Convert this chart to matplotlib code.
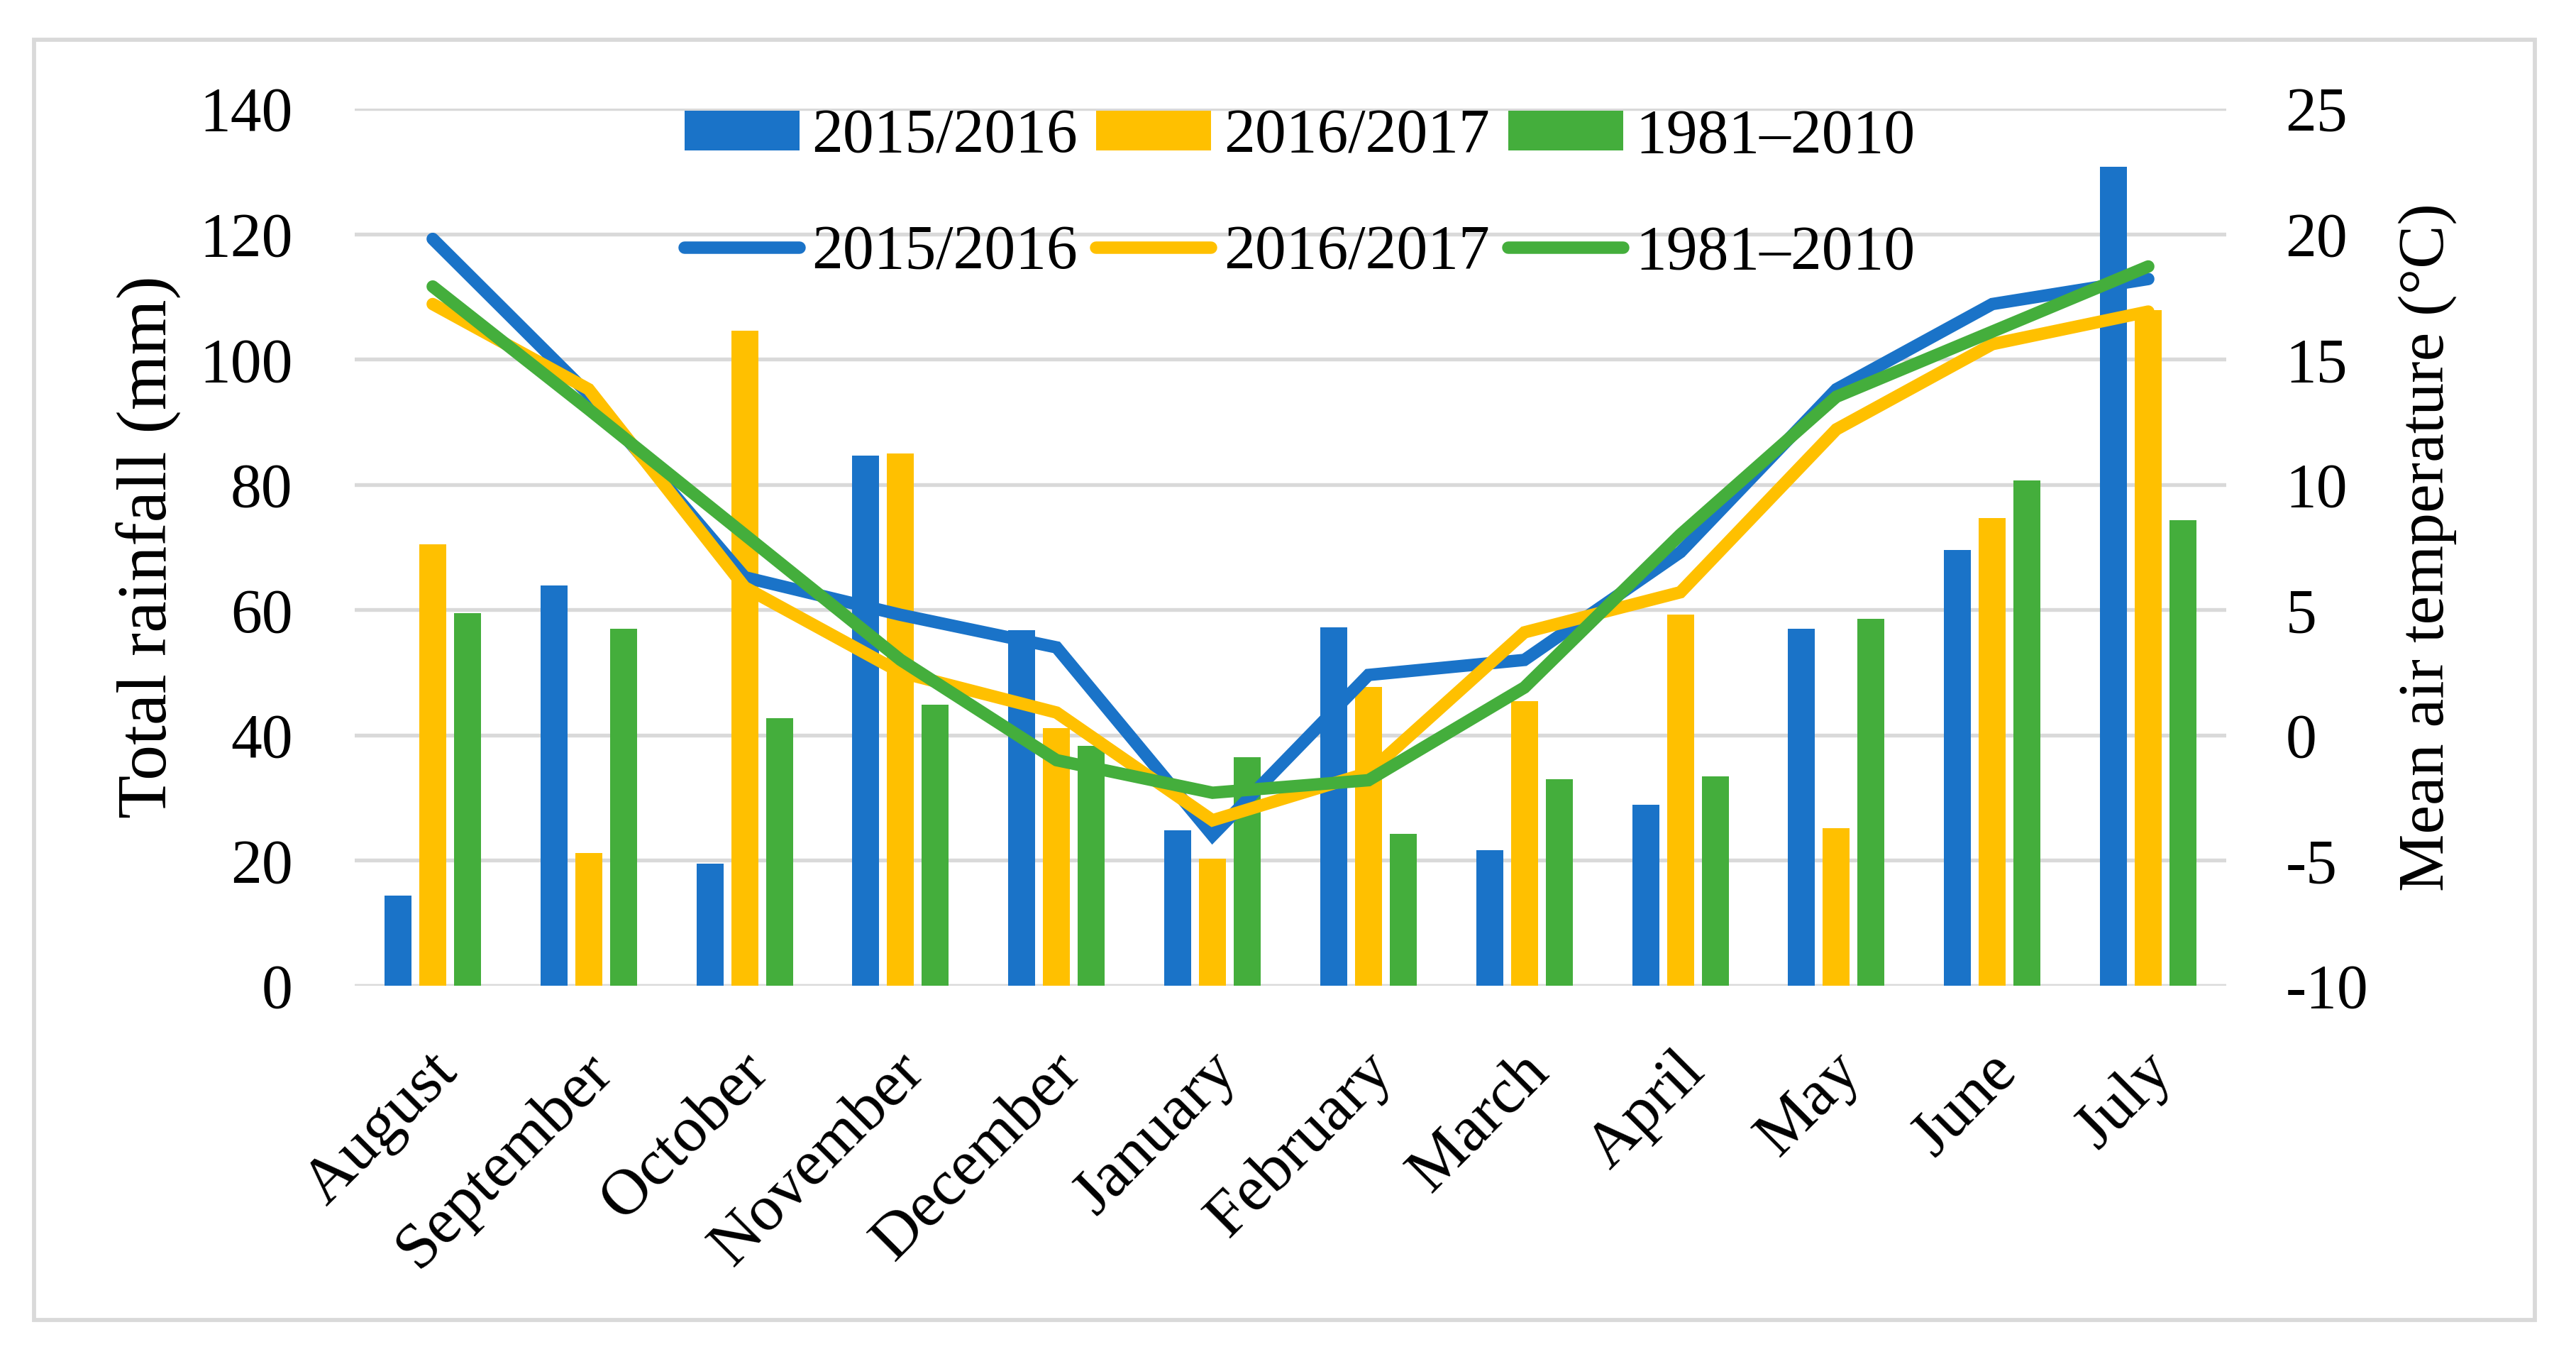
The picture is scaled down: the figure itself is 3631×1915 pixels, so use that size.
import numpy as np
import matplotlib.pyplot as plt
import matplotlib.transforms as mtrans
from matplotlib.patches import Rectangle

months = ["August", "September", "October", "November", "December", "January",
          "February", "March", "April", "May", "June", "July"]
series = ["2015/2016", "2016/2017", "1981\u20132010"]

rain_1516 = [14.4, 63.9, 19.5, 84.6, 56.7, 24.8, 57.2, 21.6, 28.9, 57.0, 69.5, 130.7]
rain_1617 = [70.5, 21.2, 104.5, 85.0, 41.1, 20.3, 47.7, 45.4, 59.2, 25.2, 74.6, 107.8]
rain_norm = [59.5, 57.0, 42.7, 44.9, 38.3, 36.5, 24.2, 33.0, 33.4, 58.6, 80.6, 74.3]

temp_1516 = [19.8, 13.6, 6.3, 4.8, 3.5, -4.0, 2.4, 3.0, 7.3, 13.8, 17.2, 18.2]
temp_1617 = [17.2, 13.8, 5.9, 2.5, 0.9, -3.4, -1.5, 4.1, 5.7, 12.2, 15.6, 16.9]
temp_norm = [17.9, 13.0, 8.0, 3.0, -1.0, -2.3, -1.8, 1.9, 8.0, 13.5, 16.1, 18.7]

colors = ["#1A73C8", "#FFC000", "#44AE3C"]
grid_c = "#D9D9D9"

plt.rcParams['font.family'] = ['Liberation Serif', 'DejaVu Serif']
plt.rcParams['axes.unicode_minus'] = False
fs = 21

fig = plt.figure(figsize=(3631 / 300, 1915 / 300), dpi=300)
ax = fig.add_axes([500 / 3631, 1 - 1389 / 1915, (3138 - 500) / 3631, (1389 - 153) / 1915])
ax2 = ax.twinx()

# outer border
fig.patches.append(Rectangle((48 / 3631, 1 - 1860 / 1915), (3573 - 48) / 3631, (1860 - 56) / 1915,
                             transform=fig.transFigure, fill=False, edgecolor=grid_c, lw=1.4))

x = np.arange(len(months))
w = 0.173
pitch = 0.223
bars = []
for i, vals in enumerate([rain_1516, rain_1617, rain_norm]):
    b = ax.bar(x + (i - 1) * pitch, vals, width=w, color=colors[i], zorder=2, label=series[i])
    bars.append(b)

lines = []
for i, vals in enumerate([temp_1516, temp_1617, temp_norm]):
    l, = ax2.plot(x, vals, color=colors[i], lw=4.2, solid_capstyle='round',
                  solid_joinstyle='miter', zorder=3, label=series[i])
    lines.append(l)

ax.set_xlim(-0.5, 11.5)
ax.set_ylim(0, 140)
ax.set_yticks(range(0, 141, 20))
ax2.set_ylim(-10, 25)
ax2.set_yticks(range(-10, 26, 5))
ax.yaxis.grid(True, color=grid_c, lw=1.3, zorder=0)
ax.set_axisbelow(True)
for a in (ax, ax2):
    for s in a.spines.values():
        s.set_visible(False)
    a.tick_params(length=0, labelsize=fs)
ax.tick_params(axis='y', pad=21)
ax2.tick_params(axis='y', pad=20)
ax.set_xticks(x)
ax.set_xticklabels(months, rotation=45, ha='right', rotation_mode='anchor', fontsize=fs + 1)
ax.tick_params(axis='x', pad=19)
shift = mtrans.ScaledTranslation(-8 / 300, 0, fig.dpi_scale_trans)
for t in ax.get_xticklabels():
    t.set_transform(t.get_transform() + shift)
ax.set_ylabel("Total rainfall (mm)", fontsize=24, labelpad=6)
ax2.set_ylabel("Mean air temperature (\u00b0C)", fontsize=22, labelpad=10)

# bottom axis line in grid colour
ax.axhline(0, color=grid_c, lw=1.3, zorder=1)

# send bars behind lines of twin axis
ax2.set_zorder(ax.get_zorder() + 1)
ax2.patch.set_visible(False)

handles = [bars[0], lines[0], bars[1], lines[1], bars[2], lines[2]]
labels = [series[0], series[0], series[1], series[1], series[2], series[2]]
ax2.legend(handles, labels, ncol=3, frameon=False, fontsize=fs,
           loc='upper center', bbox_to_anchor=(0.505, 1.064),
           handlelength=1.85, handleheight=0.6, handletextpad=0.2,
           columnspacing=0.3, labelspacing=0.95)

fig.savefig("out.png", dpi=300)
